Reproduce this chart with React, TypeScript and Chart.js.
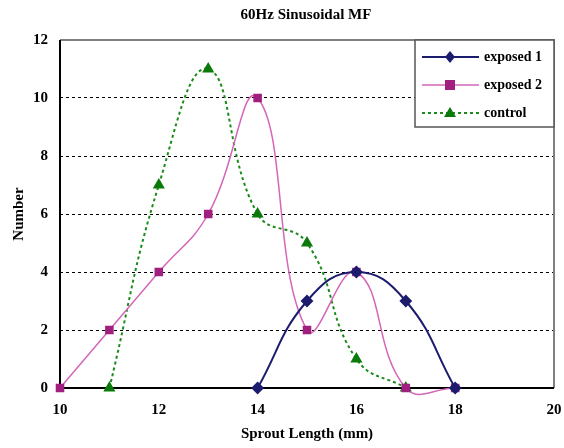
import React, { useEffect, useRef } from "react";
import { Chart, registerables } from "chart.js";

Chart.register(...registerables);

const TITLE = "60Hz Sinusoidal MF";
const X_TITLE = "Sprout Length (mm)";
const Y_TITLE = "Number";

const exposed1X = [14, 15, 16, 17, 18];
const exposed1Y = [0, 3, 4, 3, 0];
const exposed2X = [10, 11, 12, 13, 14, 15, 16, 17, 18];
const exposed2Y = [0, 2, 4, 6, 10, 2, 4, 0, 0];
const controlX = [11, 12, 13, 14, 15, 16, 17];
const controlY = [0, 7, 11, 6, 5, 1, 0];

const FONT = "'Liberation Serif', 'DejaVu Serif', serif";

const pts = (xs: number[], ys: number[]) => xs.map((x, i) => ({ x, y: ys[i] }));

const frameAndLegend = {
  id: "frameAndLegend",
  beforeDatasetsDraw(chart: any) {
    const { ctx, chartArea: a } = chart;
    ctx.save();
    ctx.strokeStyle = "#808080";
    ctx.lineWidth = 2;
    ctx.beginPath();
    ctx.moveTo(a.left, a.top);
    ctx.lineTo(a.right, a.top);
    ctx.lineTo(a.right, a.bottom);
    ctx.stroke();
    ctx.strokeStyle = "#000";
    ctx.beginPath();
    ctx.moveTo(a.left, a.top);
    ctx.lineTo(a.left, a.bottom);
    ctx.lineTo(a.right, a.bottom);
    ctx.stroke();
    ctx.restore();
  },
  afterDatasetsDraw(chart: any) {
    const { ctx, chartArea: a } = chart;
    ctx.save();
    // title
    ctx.fillStyle = "#000";
    ctx.font = `bold 15px ${FONT}`;
    ctx.textAlign = "center";
    ctx.textBaseline = "middle";
    ctx.fillText(TITLE, 306, 15);

    const bx = a.right - 139, by = a.top, bw = 139, bh = 87;
    ctx.fillStyle = "#fff";
    ctx.fillRect(bx, by, bw, bh);
    ctx.strokeStyle = "#555";
    ctx.lineWidth = 1.5;
    ctx.strokeRect(bx, by, bw, bh);
    const items = chart.data.datasets;
    items.forEach((ds: any, i: number) => {
      const y = by + 17 + i * 28;
      ctx.strokeStyle = ds.borderColor;
      ctx.lineWidth = ds.borderWidth;
      ctx.setLineDash(ds.borderDash || []);
      ctx.beginPath();
      ctx.moveTo(bx + 7, y);
      ctx.lineTo(bx + 64, y);
      ctx.stroke();
      ctx.setLineDash([]);
      ctx.fillStyle = ds.pointBackgroundColor;
      const cx = bx + 35, r = 5;
      ctx.beginPath();
      if (ds.pointStyle === "rectRot") {
        ctx.moveTo(cx, y - r - 1); ctx.lineTo(cx + r, y); ctx.lineTo(cx, y + r + 1); ctx.lineTo(cx - r, y);
      } else if (ds.pointStyle === "rect") {
        ctx.rect(cx - r, y - r, 2 * r, 2 * r);
      } else {
        ctx.moveTo(cx, y - r - 1); ctx.lineTo(cx + r + 1, y + r - 1); ctx.lineTo(cx - r - 1, y + r - 1);
      }
      ctx.closePath();
      ctx.fill();
      ctx.fillStyle = "#000";
      ctx.font = `bold 14px ${FONT}`;
      ctx.textAlign = "left";
      ctx.textBaseline = "middle";
      ctx.fillText(ds.label, bx + 69, y);
    });
    ctx.restore();
  },
};

export default function App() {
  const ref = useRef<HTMLCanvasElement>(null);
  useEffect(() => {
    const chart = new Chart(ref.current!, {
      type: "line",
      data: {
        datasets: [
          {
            label: "exposed 1",
            data: pts(exposed1X, exposed1Y),
            borderColor: "#1c1c6e",
            backgroundColor: "#1c1c6e",
            pointBackgroundColor: "#1c1c6e",
            pointBorderColor: "#1c1c6e",
            pointStyle: "rectRot",
            pointRadius: 5,
            borderWidth: 2,
            tension: 0.45,
            clip: false,
          } as any,
          {
            label: "exposed 2",
            data: pts(exposed2X, exposed2Y),
            borderColor: "#d466b8",
            backgroundColor: "#a1207f",
            pointBackgroundColor: "#a1207f",
            pointBorderColor: "#a1207f",
            pointStyle: "rect",
            pointRadius: 5,
            borderWidth: 1.5,
            tension: 0.45,
            clip: false,
          } as any,
          {
            label: "control",
            data: pts(controlX, controlY),
            borderColor: "#1a8a1a",
            backgroundColor: "#0a7a0a",
            pointBackgroundColor: "#0a7a0a",
            pointBorderColor: "#0a7a0a",
            pointStyle: "triangle",
            pointRadius: 5,
            borderWidth: 2,
            borderDash: [3, 3],
            tension: 0.45,
            clip: false,
          } as any,
        ],
      },
      options: {
        animation: false,
        responsive: false,
        maintainAspectRatio: false,
        elements: { line: { capBezierPoints: false } },
        layout: { padding: { top: 40, right: 10, left: 0, bottom: 0 } },
        plugins: { legend: { display: false }, tooltip: { enabled: false }, title: { display: false } },
        scales: {
          x: {
            type: "linear",
            min: 10,
            max: 20,
            ticks: { stepSize: 2, color: "#000", font: { family: FONT, size: 15, weight: "bold" }, padding: 13 },
            grid: { display: false, drawTicks: false },
            border: { display: false },
            title: { display: true, text: X_TITLE, color: "#000", font: { family: FONT, size: 15, weight: "bold" }, padding: { top: 0, bottom: 5 } },
            afterFit: (s: any) => { s.height = 60; s.paddingRight = 0; s.paddingLeft = 0; },
          },
          y: {
            min: 0,
            max: 12,
            ticks: { stepSize: 2, color: "#000", font: { family: FONT, size: 15, weight: "bold" }, padding: 12 },
            grid: {
              drawTicks: false,
              color: (c: any) => (c.tick.value === 0 || c.tick.value === 12 ? "rgba(0,0,0,0)" : "#000"),
              lineWidth: 1,
            },
            border: { display: false, dash: [3, 3] },
            title: { display: true, text: Y_TITLE, color: "#000", font: { family: FONT, size: 15, weight: "bold" }, padding: { top: 10, bottom: 0 } },
            afterFit: (s: any) => { s.width = 60; s.paddingTop = 0; s.paddingBottom = 0; },
          },
        },
      },
      plugins: [frameAndLegend],
    });
    return () => chart.destroy();
  }, []);
  return (
    <div style={{ position: "absolute", left: 0, top: 0, width: 564, height: 448, background: "#fff" }}>
      <canvas ref={ref} width={564} height={448} style={{ width: 564, height: 448 }} />
    </div>
  );
}
